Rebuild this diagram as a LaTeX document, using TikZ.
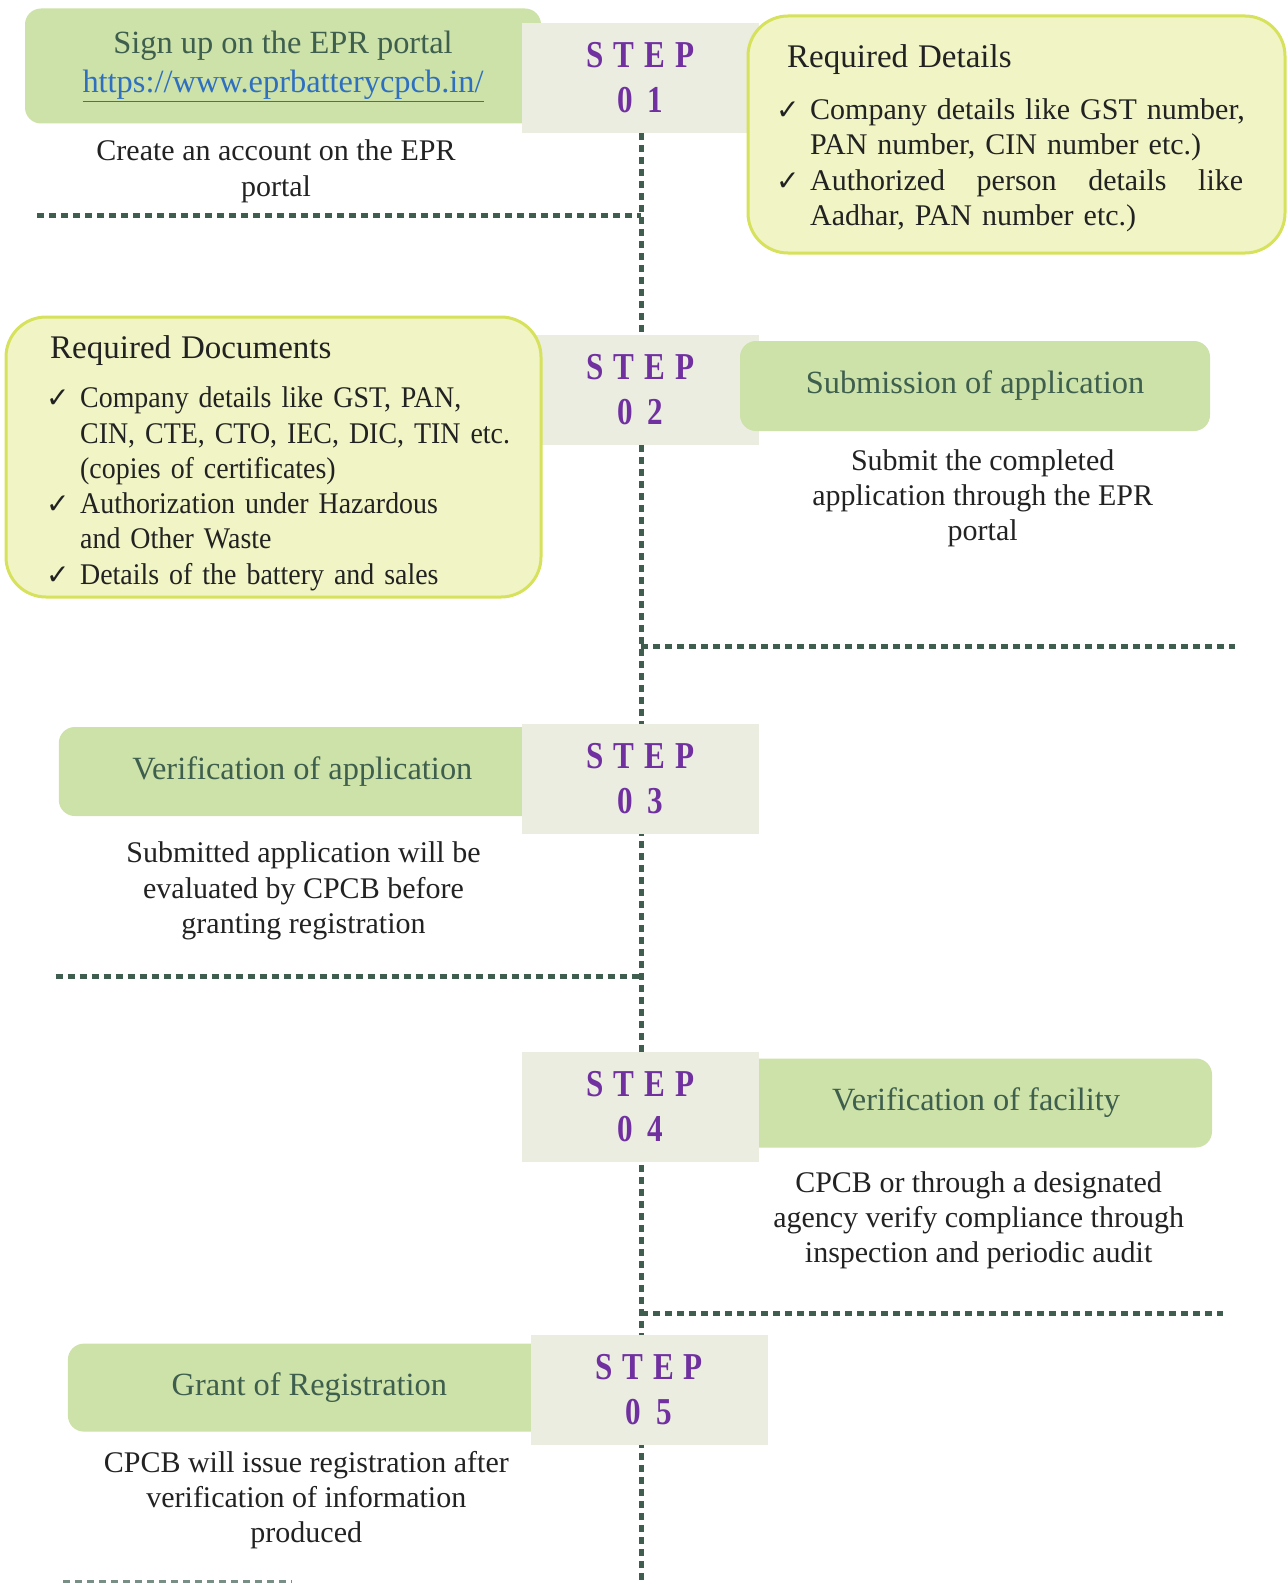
\documentclass[tikz,border=0pt]{standalone}
\usepackage{fontspec}
\setmainfont{Liberation Serif}
\newfontfamily\condfont[FakeStretch=0.93]{Liberation Serif}
\newfontfamily\stepfont[FakeStretch=0.82]{Liberation Serif}
\newfontfamily\symfont{DejaVu Sans}
\usetikzlibrary{positioning,backgrounds}

\definecolor{boxgreen}{HTML}{CDE2A8}
\definecolor{stepgray}{HTML}{EBEDE1}
\definecolor{noteyellow}{HTML}{F1F4C4}
\definecolor{noteedge}{HTML}{D6E15C}
\definecolor{headgreen}{HTML}{3E5E4E}
\definecolor{linegreen}{HTML}{3F5E50}
\definecolor{steppurple}{HTML}{7030A0}
\definecolor{linkblue}{HTML}{2F6FC0}
\definecolor{bodyink}{HTML}{222222}

\newcommand{\chk}{\makebox[34pt][l]{\symfont\fontsize{28}{28}\selectfont ✓}}
\newcommand{\ind}{\hspace*{34pt}}
\newcommand{\gap}{\hspace{10pt}}
\newcommand{\dgap}{\hspace{15pt}}

\tikzset{
  greenbox/.style={fill=boxgreen, rounded corners=16pt, text=headgreen, align=center,
    font=\fontsize{32.4}{39.4}\selectfont},
  stepbox/.style={fill=stepgray, minimum width=237pt, minimum height=110pt, text=steppurple,
    align=center, font=\stepfont\bfseries\fontsize{38}{45}\selectfont},
  notebox/.style={fill=noteyellow, draw=noteedge, line width=3pt, rounded corners=40pt},
  desc/.style={align=center, text=bodyink, font=\fontsize{30}{35.3}\selectfont},
  listtxt/.style={align=left, text=bodyink, inner sep=0pt, font=\fontsize{30}{35.3}\selectfont},
  dotline/.style={draw=linegreen, line width=5pt, dash pattern=on 7pt off 5pt}
}

\begin{document}
\begin{tikzpicture}[x=1pt, y=-1pt]
    \useasboundingbox (0,0) rectangle (1287,1584);

    % step 01
    \node[greenbox, minimum width=516pt, minimum height=115pt] (signup) at (283,66)
         {Sign up on the EPR portal\\ \textcolor{linkblue}{\underline{https://www.eprbatterycpcb.in/}}};
    \node[stepbox] (s1) at (640.5,78) {S\gap T\gap E\gap P\\0\dgap 1};
    \node[notebox, minimum width=537pt, minimum height=237pt] (details) at (1016.5,134.5) {};
    \node[listtxt, anchor=north west, text width=500pt] (detailstxt) at (776,44.5)
         {\fontsize{33}{35.3}\selectfont\hspace*{11pt}Required Details\\[16.7pt]
          \fontsize{30}{35.3}\selectfont
          \chk Company details like GST number,\\
          \ind PAN number, CIN number etc.)\\
          \chk\hbox to 433pt{Authorized\hfill person\hfill details\hfill like}\\
          \ind Aadhar, PAN number etc.)};
    \node[desc] (signupdesc) at (276,171.4) {Create an account on the EPR\\portal};

    % step 02
    \node[stepbox] (s2) at (640.5,389.7) {S\gap T\gap E\gap P\\0\dgap 2};
    \node[notebox, minimum width=535pt, minimum height=280pt] (docs) at (273.5,457) {};
    \node[listtxt, anchor=north west, text width=500pt] (docstxt) at (46,335.5)
         {\fontsize{33}{35.3}\selectfont\hspace*{4pt}Required Documents\\[13.8pt]
          \condfont\fontsize{30}{35.3}\selectfont
          \chk Company details like GST, PAN,\\
          \ind CIN, CTE, CTO, IEC, DIC, TIN etc.\\
          \ind (copies of certificates)\\
          \chk Authorization under Hazardous\\
          \ind and Other Waste\\
          \chk Details of the battery and sales};
    \node[greenbox, minimum width=470pt, minimum height=90pt] (submit) at (975,386)
         {Submission of application};
    \node[desc] (submitdesc) at (982.7,498.4) {Submit the completed\\application through the EPR\\portal};

    % step 03
    \node[greenbox, minimum width=487pt, minimum height=89pt] (verify) at (302.3,771.5)
         {Verification of application};
    \node[stepbox] (s3) at (640.5,778.5) {S\gap T\gap E\gap P\\0\dgap 3};
    \node[desc] (verifydesc) at (303.5,891) {Submitted application will be\\evaluated by CPCB before\\granting registration};

    % step 04
    \node[greenbox, minimum width=472pt, minimum height=89pt] (facility) at (976,1103)
         {Verification of facility};
    \node[stepbox] (s4) at (640.5,1107) {S\gap T\gap E\gap P\\0\dgap 4};
    \node[desc] (facilitydesc) at (978.6,1220.3) {CPCB or through a designated\\agency verify compliance through\\inspection and periodic audit};

    % step 05
    \node[greenbox, minimum width=483pt, minimum height=88pt] (grant) at (309.4,1387.6)
         {Grant of Registration};
    \node[stepbox] (s5) at (649,1390) {S\gap T\gap E\gap P\\0\dgap 5};
    \node[desc] (grantdesc) at (306.3,1500.3) {CPCB will issue registration after\\verification of information\\produced};

    % dotted guide lines
    \coordinate (vtop) at (641,133);
    \coordinate (vbot) at (641,1584);
    \coordinate (h1) at (37.4,215.3);
    \coordinate (h2) at (1235,646);
    \coordinate (h3) at (55.6,976.6);
    \coordinate (h4) at (1223,1313);
    \coordinate (h5a) at (63,1581);
    \coordinate (h5b) at (292,1581);

    \begin{scope}[on background layer]
        \path[dotline] (vtop) -- (vbot);
        \path[dotline] (h1) -- (vtop |- h1);
        \path[dotline] (vtop |- h2) -- (h2);
        \path[dotline] (h3) -- (vtop |- h3);
        \path[dotline] (vtop |- h4) -- (h4);
        \path[dotline, draw=linegreen!70, line width=3pt] (h5a) -- (h5b);
    \end{scope}
\end{tikzpicture}
\end{document}
